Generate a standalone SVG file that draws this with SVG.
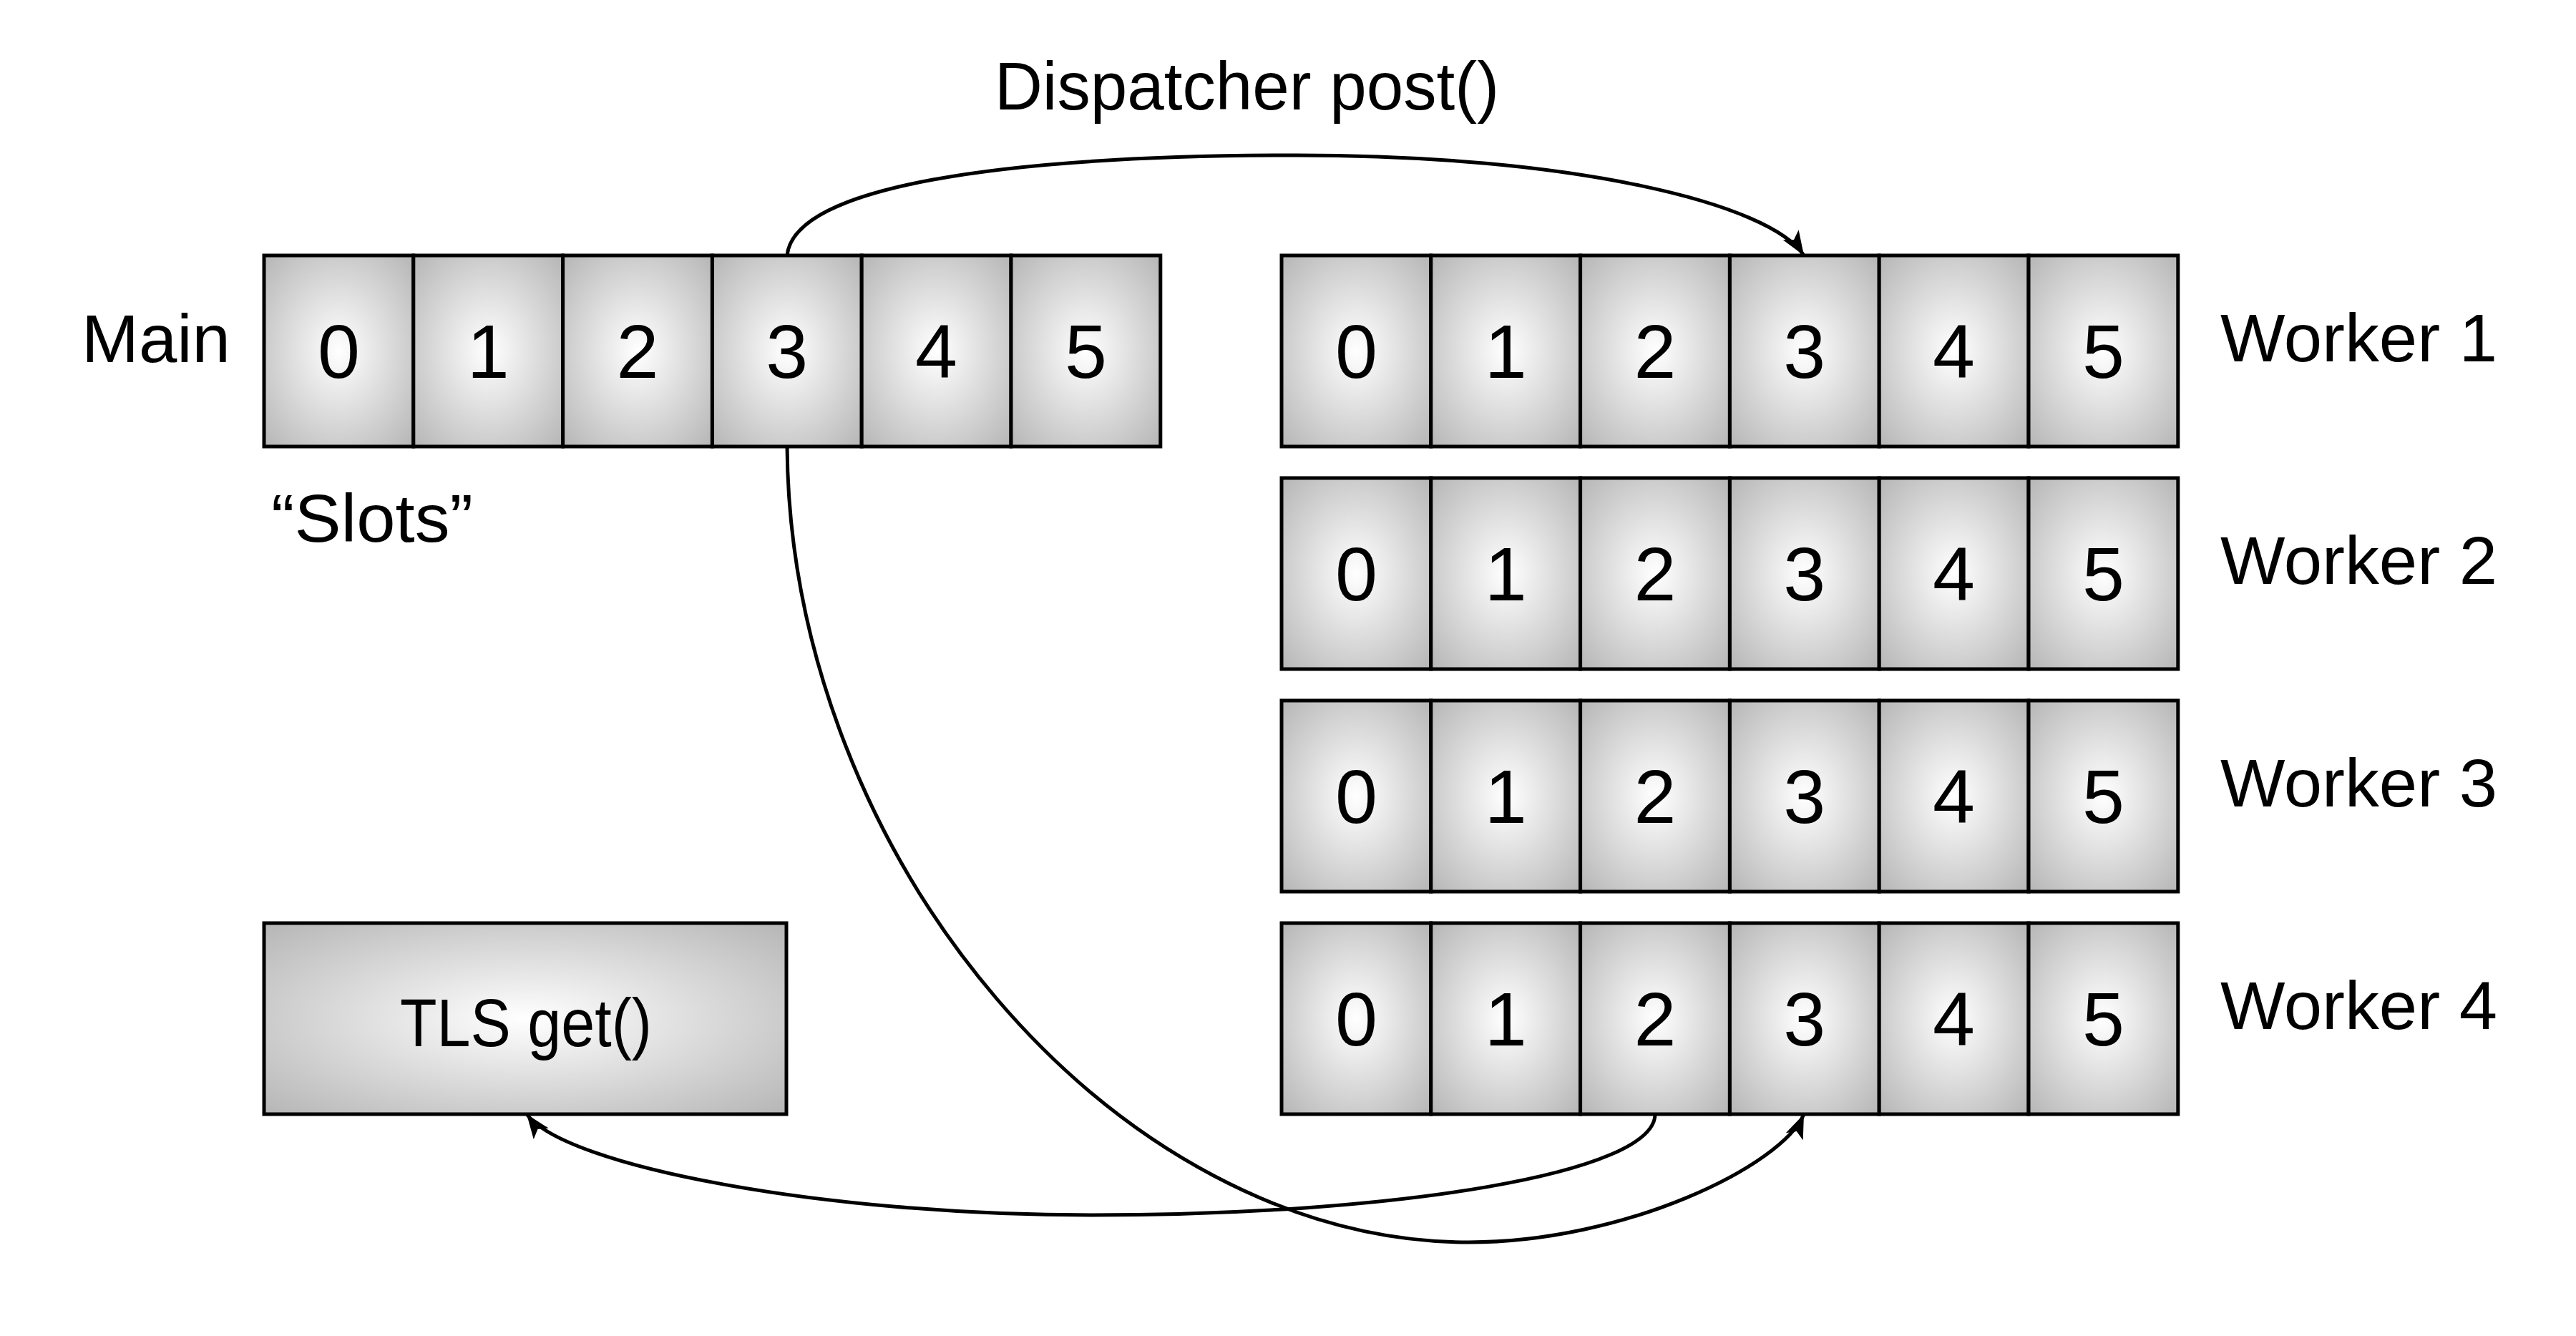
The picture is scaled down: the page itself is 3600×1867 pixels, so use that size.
<svg xmlns="http://www.w3.org/2000/svg" width="3600" height="1867" viewBox="0 0 3600 1867">
<style>
.cell{fill:url(#g);stroke:#000;stroke-width:5}
.dig{font-family:"Liberation Sans",Arial,sans-serif;font-size:106px;text-anchor:middle;fill:#000}
.lbl{font-family:"Liberation Sans",Arial,sans-serif;font-size:95px;fill:#000}
.con{fill:none;stroke:#000;stroke-width:5}
</style>
<defs>
<radialGradient id="g" cx="0.5" cy="0.5" r="0.71">
<stop offset="0" stop-color="#ffffff"/>
<stop offset="1" stop-color="#b5b5b5"/>
</radialGradient>
<marker id="ah" markerUnits="userSpaceOnUse" viewBox="0 0 34 26" markerWidth="34" markerHeight="26" refX="34" refY="13" orient="auto">
<path d="M0,0 L34,13 L0,26 L8,13 Z" fill="#000"/>
</marker>
</defs>
<rect width="3600" height="1867" fill="#fff"/>

<g id="main">
<rect class="cell" x="369" y="357" width="208.8" height="267"/>
<rect class="cell" x="577.8" y="357" width="208.8" height="267"/>
<rect class="cell" x="786.6" y="357" width="208.8" height="267"/>
<rect class="cell" x="995.4" y="357" width="208.8" height="267"/>
<rect class="cell" x="1204.2" y="357" width="208.8" height="267"/>
<rect class="cell" x="1413" y="357" width="208.8" height="267"/>
<text class="dig" x="473.4" y="528">0</text>
<text class="dig" x="682.2" y="528">1</text>
<text class="dig" x="891" y="528">2</text>
<text class="dig" x="1099.8" y="528">3</text>
<text class="dig" x="1308.6" y="528">4</text>
<text class="dig" x="1517.4" y="528">5</text>
<text class="lbl" x="114" y="506" textLength="208" lengthAdjust="spacingAndGlyphs">Main</text>
<text class="lbl" x="379" y="757" textLength="282" lengthAdjust="spacingAndGlyphs">“Slots”</text>
</g>

<g id="worker1">
<rect class="cell" x="1791" y="357" width="208.8" height="267"/>
<rect class="cell" x="1999.8" y="357" width="208.8" height="267"/>
<rect class="cell" x="2208.6" y="357" width="208.8" height="267"/>
<rect class="cell" x="2417.4" y="357" width="208.8" height="267"/>
<rect class="cell" x="2626.2" y="357" width="208.8" height="267"/>
<rect class="cell" x="2835" y="357" width="208.8" height="267"/>
<text class="dig" x="1895.4" y="528">0</text>
<text class="dig" x="2104.2" y="528">1</text>
<text class="dig" x="2313" y="528">2</text>
<text class="dig" x="2521.8" y="528">3</text>
<text class="dig" x="2730.6" y="528">4</text>
<text class="dig" x="2939.4" y="528">5</text>
<text class="lbl" x="3103" y="505" textLength="387" lengthAdjust="spacingAndGlyphs">Worker 1</text>
</g>

<g id="worker2">
<rect class="cell" x="1791" y="668" width="208.8" height="267"/>
<rect class="cell" x="1999.8" y="668" width="208.8" height="267"/>
<rect class="cell" x="2208.6" y="668" width="208.8" height="267"/>
<rect class="cell" x="2417.4" y="668" width="208.8" height="267"/>
<rect class="cell" x="2626.2" y="668" width="208.8" height="267"/>
<rect class="cell" x="2835" y="668" width="208.8" height="267"/>
<text class="dig" x="1895.4" y="839">0</text>
<text class="dig" x="2104.2" y="839">1</text>
<text class="dig" x="2313" y="839">2</text>
<text class="dig" x="2521.8" y="839">3</text>
<text class="dig" x="2730.6" y="839">4</text>
<text class="dig" x="2939.4" y="839">5</text>
<text class="lbl" x="3103" y="816" textLength="387" lengthAdjust="spacingAndGlyphs">Worker 2</text>
</g>

<g id="worker3">
<rect class="cell" x="1791" y="979" width="208.8" height="267"/>
<rect class="cell" x="1999.8" y="979" width="208.8" height="267"/>
<rect class="cell" x="2208.6" y="979" width="208.8" height="267"/>
<rect class="cell" x="2417.4" y="979" width="208.8" height="267"/>
<rect class="cell" x="2626.2" y="979" width="208.8" height="267"/>
<rect class="cell" x="2835" y="979" width="208.8" height="267"/>
<text class="dig" x="1895.4" y="1150">0</text>
<text class="dig" x="2104.2" y="1150">1</text>
<text class="dig" x="2313" y="1150">2</text>
<text class="dig" x="2521.8" y="1150">3</text>
<text class="dig" x="2730.6" y="1150">4</text>
<text class="dig" x="2939.4" y="1150">5</text>
<text class="lbl" x="3103" y="1127" textLength="387" lengthAdjust="spacingAndGlyphs">Worker 3</text>
</g>

<g id="worker4">
<rect class="cell" x="1791" y="1290" width="208.8" height="267"/>
<rect class="cell" x="1999.8" y="1290" width="208.8" height="267"/>
<rect class="cell" x="2208.6" y="1290" width="208.8" height="267"/>
<rect class="cell" x="2417.4" y="1290" width="208.8" height="267"/>
<rect class="cell" x="2626.2" y="1290" width="208.8" height="267"/>
<rect class="cell" x="2835" y="1290" width="208.8" height="267"/>
<text class="dig" x="1895.4" y="1461">0</text>
<text class="dig" x="2104.2" y="1461">1</text>
<text class="dig" x="2313" y="1461">2</text>
<text class="dig" x="2521.8" y="1461">3</text>
<text class="dig" x="2730.6" y="1461">4</text>
<text class="dig" x="2939.4" y="1461">5</text>
<text class="lbl" x="3103" y="1438" textLength="387" lengthAdjust="spacingAndGlyphs">Worker 4</text>
</g>

<g id="tls">
<rect class="cell" x="369" y="1290" width="730" height="267"/>
<text class="lbl" x="559" y="1462" textLength="352" lengthAdjust="spacingAndGlyphs">TLS get()</text>
</g>

<g id="connectors">
<path class="con" d="M1100,357 C1110,260 1400,218 1803,217 C2200,216 2475,285 2521,357" marker-end="url(#ah)"/>
<text class="lbl" x="1390" y="153" textLength="705" lengthAdjust="spacingAndGlyphs">Dispatcher post()</text>
<path class="con" d="M1100,624 C1104,1200 1560,1736 2053,1736 C2270,1736 2490,1630 2521,1557" marker-end="url(#ah)"/>
<path class="con" d="M2313,1557 C2313,1640 1950,1698 1525,1698 C1150,1698 790,1630 736,1557" marker-end="url(#ah)"/>
</g>
</svg>
